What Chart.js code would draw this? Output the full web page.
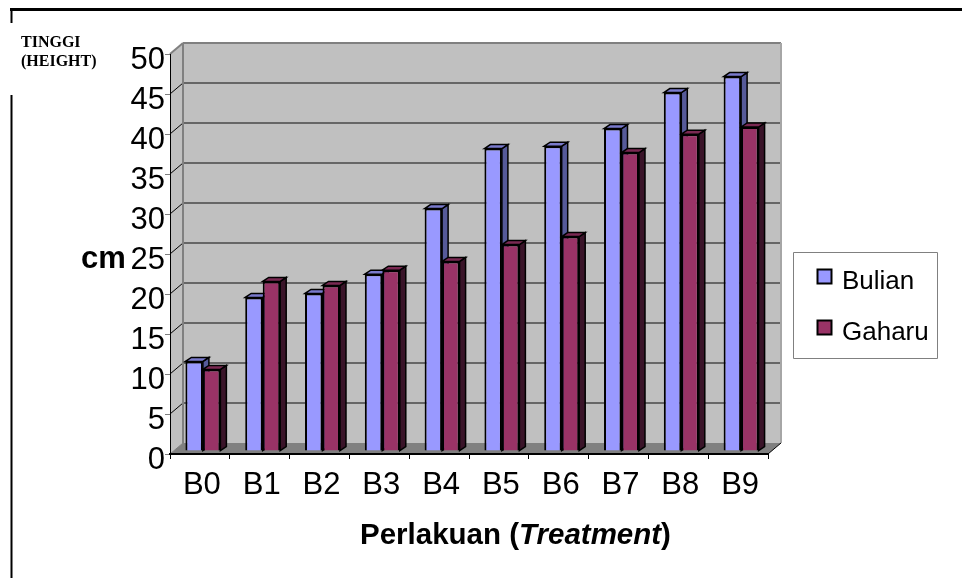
<!DOCTYPE html>
<html>
<head>
<meta charset="utf-8">
<title>Perlakuan</title>
<style>
    html, body { margin: 0; padding: 0; background: #fff; }
    canvas { display: block; }
</style>
<script src="https://cdn.jsdelivr.net/npm/chart.js@4/dist/chart.umd.min.js"></script>
</head>
<body>
<canvas id="chart" width="962" height="578"></canvas>
<script>
const categories = ["B0", "B1", "B2", "B3", "B4", "B5", "B6", "B7", "B8", "B9"];
const bulian = [11.2, 19.2, 19.7, 22.1, 30.3, 37.8, 38.1, 40.3, 44.8, 46.8];
const gaharu = [10.2, 21.2, 20.7, 22.6, 23.7, 25.8, 26.8, 37.3, 39.6, 40.5];
const yTicks = [0, 5, 10, 15, 20, 25, 30, 35, 40, 45, 50];

const SANS = "'Liberation Sans', Arial, sans-serif";
const SERIF = "'Liberation Serif', 'Times New Roman', serif";

// wall depth of the fake 3D box, and how far the bars sit inside it
const DEPTH_X = 13, DEPTH_Y = 11;
const BAR_SHIFT_X = 3, BAR_SHIFT_Y = -3;
const BAR_SIDE_X = 6, BAR_SIDE_Y = -4;

const faces = [
    { top: "#7a7acc", side: "#565a99" },
    { top: "#7a2952", side: "#3a1429" },
];

function poly(ctx, pts, fill, stroke, lw) {
    ctx.beginPath();
    pts.forEach((p, i) => (i ? ctx.lineTo(p[0], p[1]) : ctx.moveTo(p[0], p[1])));
    ctx.closePath();
    if (fill) { ctx.fillStyle = fill; ctx.fill(); }
    if (stroke) { ctx.strokeStyle = stroke; ctx.lineWidth = lw; ctx.stroke(); }
}

function line(ctx, x1, y1, x2, y2, color, lw) {
    ctx.beginPath();
    ctx.moveTo(x1, y1);
    ctx.lineTo(x2, y2);
    ctx.strokeStyle = color;
    ctx.lineWidth = lw;
    ctx.stroke();
}

const box3d = {
    id: "box3d",
    beforeDraw(chart) {
        const { ctx, chartArea: a, scales: { y } } = chart;
        const l = a.left, r = a.right, t = a.top, b = a.bottom;
        ctx.save();
        // back wall, side wall, floor
        poly(ctx, [[l + DEPTH_X, t - DEPTH_Y], [r + DEPTH_X, t - DEPTH_Y], [r + DEPTH_X, b - DEPTH_Y], [l + DEPTH_X, b - DEPTH_Y]], "#c0c0c0");
        poly(ctx, [[l, t], [l + DEPTH_X, t - DEPTH_Y], [l + DEPTH_X, b - DEPTH_Y], [l, b]], "#c0c0c0");
        poly(ctx, [[l, b], [l + DEPTH_X, b - DEPTH_Y], [r + DEPTH_X, b - DEPTH_Y], [r, b]], "#808080");
        yTicks.forEach((v) => {
            const py = y.getPixelForValue(v);
            if (v > 0 && v < 50) {
                line(ctx, l + DEPTH_X, py - DEPTH_Y, r + DEPTH_X, py - DEPTH_Y, "#666666", 2);
                line(ctx, l, py, l + DEPTH_X, py - DEPTH_Y, "#000000", 1);
            }
        });
        line(ctx, l, t, l + DEPTH_X, t - DEPTH_Y, "#808080", 2);
        line(ctx, l + DEPTH_X, t - DEPTH_Y, r + DEPTH_X, t - DEPTH_Y, "#808080", 2);
        line(ctx, l + DEPTH_X, t - DEPTH_Y, l + DEPTH_X, b - DEPTH_Y, "#808080", 2);
        line(ctx, r + DEPTH_X, t - DEPTH_Y, r + DEPTH_X, b - DEPTH_Y, "#a6a6a6", 2);
        line(ctx, l, b, l + DEPTH_X, b - DEPTH_Y, "#808080", 1);
        line(ctx, r, b, r + DEPTH_X, b - DEPTH_Y, "#000000", 1);
        ctx.restore();
    },
    beforeDatasetsDraw(chart) {
        const { ctx } = chart;
        ctx.save();
        ctx.translate(BAR_SHIFT_X, BAR_SHIFT_Y);
        // sides and tops go first, the library then paints the front faces over them
        chart.data.datasets.forEach((ds, i) => {
            chart.getDatasetMeta(i).data.forEach((bar) => {
                const x1 = bar.x - bar.width / 2, x2 = bar.x + bar.width / 2;
                const yt = bar.y, yb = bar.base;
                poly(ctx, [[x2, yt], [x2 + BAR_SIDE_X, yt + BAR_SIDE_Y], [x2 + BAR_SIDE_X, yb + BAR_SIDE_Y], [x2, yb]], faces[i].side, "#000000", 1.5);
                poly(ctx, [[x1, yt], [x1 + BAR_SIDE_X, yt + BAR_SIDE_Y], [x2 + BAR_SIDE_X, yt + BAR_SIDE_Y], [x2, yt]], faces[i].top, "#000000", 1.5);
            });
        });
    },
    afterDatasetsDraw(chart) {
        chart.ctx.restore();
    },
    afterDraw(chart) {
        const { ctx } = chart;
        ctx.save();
        ctx.fillStyle = "#000000";
        ctx.textBaseline = "alphabetic";
        ctx.textAlign = "left";

        // page frame around the figure
        line(ctx, 10, 9.5, 962, 9.5, "#000000", 3);
        line(ctx, 11.5, 9, 11.5, 23, "#000000", 2);
        line(ctx, 11.5, 95, 11.5, 578, "#000000", 2);

        ctx.font = "bold 16px " + SERIF;
        ctx.fillText("TINGGI", 21, 47);
        ctx.fillText("(HEIGHT)", 21, 66);

        ctx.font = "bold 31px " + SANS;
        ctx.fillText("cm", 81, 268);

        // x axis title has a bold italic word in it, so it goes in pieces
        const parts = [["Perlakuan (", "bold 29.5px "], ["Treatment", "italic bold 29.5px "], [")", "bold 29.5px "]];
        let x = 360;
        parts.forEach(([text, font]) => {
            ctx.font = font + SANS;
            ctx.fillText(text, x, 544);
            x += ctx.measureText(text).width;
        });

        // legend
        poly(ctx, [[793.5, 252.5], [937.5, 252.5], [937.5, 358.5], [793.5, 358.5]], "#ffffff", "#808080", 1);
        ctx.font = "26px " + SANS;
        chart.data.datasets.forEach((ds, i) => {
            const sy = i === 0 ? 269 : 320;
            poly(ctx, [[817.5, sy + 0.5], [831.5, sy + 0.5], [831.5, sy + 14.5], [817.5, sy + 14.5]], ds.backgroundColor, "#000000", 2);
            ctx.fillStyle = "#000000";
            ctx.fillText(ds.label, 842, sy + 20);
        });
        ctx.restore();
    },
};

new Chart(document.getElementById("chart"), {
    type: "bar",
    data: {
        labels: categories,
        datasets: [
            { label: "Bulian", data: bulian, backgroundColor: "#9999ff", borderColor: "#000000", borderWidth: 2, clip: false },
            { label: "Gaharu", data: gaharu, backgroundColor: "#993366", borderColor: "#000000", borderWidth: 2, clip: false },
        ],
    },
    options: {
        responsive: false,
        animation: false,
        layout: { padding: { top: 54, right: 194, left: 0, bottom: 0 } },
        categoryPercentage: 0.585,
        barPercentage: 1,
        scales: {
            x: {
                afterFit: (scale) => { scale.height = 124; },
                grid: { drawOnChartArea: false, color: "#000000", tickLength: 5, lineWidth: 1 },
                border: { color: "#000000", width: 2 },
                ticks: { color: "#000000", font: { family: SANS, size: 31 }, padding: 8, labelOffset: 2, maxRotation: 0, autoSkip: false },
            },
            y: {
                min: 0,
                max: 50,
                afterFit: (scale) => { scale.width = 170; },
                afterBuildTicks: (scale) => { scale.ticks = yTicks.map((value) => ({ value })); },
                grid: { drawOnChartArea: false, color: "#808080", tickLength: 5, lineWidth: 1 },
                border: { color: "#000000", width: 1 },
                ticks: { color: "#000000", font: { family: SANS, size: 31 }, padding: 0, labelOffset: 6, autoSkip: false },
            },
        },
        plugins: { legend: { display: false }, tooltip: { enabled: false } },
    },
    plugins: [box3d],
});
</script>
</body>
</html>
